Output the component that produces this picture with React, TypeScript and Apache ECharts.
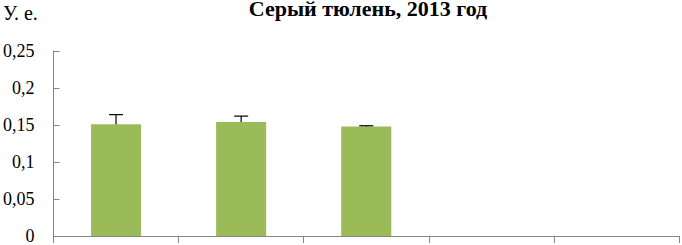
import React, { useEffect, useRef } from "react";
import * as echarts from "echarts";

const categories = ["1", "2", "3", "4", "5"];
const values: (number | null)[] = [0.151, 0.154, 0.148, null, null];
const errors: (number | null)[] = [0.013, 0.008, 0.001, null, null];
const yTicks = [0, 0.05, 0.1, 0.15, 0.2, 0.25];
const titleText = "Серый тюлень, 2013 год";
const unitText = "У. е.";
const SERIF = "'Liberation Serif', 'Times New Roman', serif";

export default function App() {
  const ref = useRef<HTMLDivElement>(null);
  useEffect(() => {
    if (!ref.current) return;
    const chart = echarts.init(ref.current, undefined, { renderer: "svg" });
    const errData = values
      .map((v, i) => (v == null || errors[i] == null ? null : [i, v, v + (errors[i] as number)]))
      .filter((d) => d != null);
    chart.setOption({
      animation: false,
      backgroundColor: "#ffffff",
      graphic: [
        {
          type: "text",
          x: 368,
          y: 8.6,
          style: {
            text: titleText,
            font: "bold 22px " + SERIF,
            fill: "#000",
            align: "center",
            verticalAlign: "middle",
          },
        },
        {
          type: "text",
          x: 3,
          y: 13.3,
          style: {
            text: unitText,
            font: "20px " + SERIF,
            fill: "#000",
            align: "left",
            verticalAlign: "middle",
          },
        },
      ],
      grid: { left: 52, right: 3, top: 51, bottom: 7, containLabel: false },
      xAxis: {
        type: "category",
        data: categories,
        axisLine: { lineStyle: { color: "#868686", width: 1 } },
        axisTick: { show: true, interval: 0, length: 7, alignWithLabel: false, lineStyle: { color: "#868686" } },
        axisLabel: { show: false },
        splitLine: { show: false },
      },
      yAxis: {
        type: "value",
        min: 0,
        max: yTicks[yTicks.length - 1],
        interval: 0.05,
        axisLine: { show: true, lineStyle: { color: "#868686", width: 1 } },
        axisTick: { show: true, inside: true, length: 6, lineStyle: { color: "#868686" } },
        splitLine: { show: false },
        axisLabel: {
          margin: 19,
          color: "#000",
          fontFamily: SERIF,
          fontSize: 18,
          formatter: (v: number) => String(Math.round(v * 100) / 100).replace(".", ","),
        },
      },
      series: [
        {
          type: "bar",
          data: values,
          barWidth: "40%",
          itemStyle: { color: "#9BBB59" },
        },
        {
          type: "custom",
          data: errData,
          z: 10,
          renderItem: (params: any, api: any) => {
            const x = api.value(0);
            const lo = api.coord([x, api.value(1)]);
            const hi = api.coord([x, api.value(2)]);
            const half = 7;
            return {
              type: "group",
              children: [
                {
                  type: "line",
                  shape: { x1: lo[0], y1: lo[1], x2: hi[0], y2: hi[1] },
                  style: { stroke: "#000", lineWidth: 1.2 },
                },
                {
                  type: "line",
                  shape: { x1: hi[0] - half, y1: hi[1], x2: hi[0] + half, y2: hi[1] },
                  style: { stroke: "#000", lineWidth: 1.2 },
                },
              ],
            };
          },
        },
      ],
    });
    return () => chart.dispose();
  }, []);
  return (
    <div
      ref={ref}
      style={{ position: "fixed", left: 0, top: 0, width: 682, height: 245 }}
    />
  );
}
